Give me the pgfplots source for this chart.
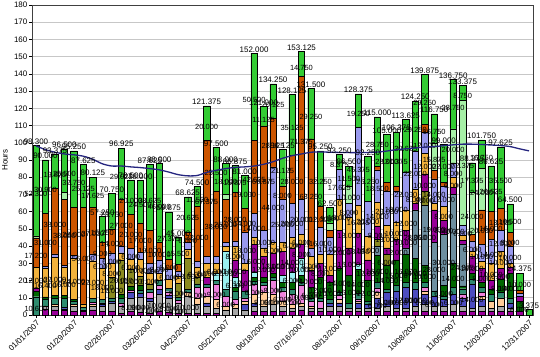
\documentclass[border=0pt]{standalone}
\usepackage{fontspec}
\setmainfont{Liberation Sans}
\usepackage{pgfplots}
\usepackage{pgfplotstable}
\pgfplotsset{compat=1.18}

\definecolor{cpur}{HTML}{990099}
\definecolor{cgry}{HTML}{A8A8A8}
\definecolor{csla}{HTML}{4C4CC0}
\definecolor{cpea}{HTML}{FFCC99}
\definecolor{cpnk}{HTML}{EE82DD}
\definecolor{ctea}{HTML}{2E8B6E}
\definecolor{cdgr}{HTML}{006600}
\definecolor{cstl}{HTML}{6E8FA0}
\definecolor{ccyn}{HTML}{99F0F0}
\definecolor{colv}{HTML}{8B8B20}
\definecolor{cpuu}{HTML}{990099}
\definecolor{clor}{HTML}{F2B23C}
\definecolor{clav}{HTML}{9999EE}
\definecolor{corg}{HTML}{CC5500}
\definecolor{clgr}{HTML}{A6F0A6}
\definecolor{cgrn}{HTML}{33CC33}
\definecolor{cline}{HTML}{25257F}

\pgfplotstableread{
x pur gry sla pea pnk tea dgr stl cyn olv puu lor lav org lgr grn tot avg
0 0 0 0 0 0 10.6 3 0 0 0 2 12 0 17.2 1.2 52.3 98.3 98.2
1 3.5 1.5 0 0 0 4 1.5 0 0 0 0 16.4 1.2 31 0 30.9 90 96
2 3 2 0 1 0 4 1.5 0 0 0 0 22 2 38 0 19.875 93.375 94.5
3 2.5 1 1 0 0 5 2 0 0 0 0 16 1.5 38 4 25.5 96.5 93.5
4 2 3 0 1 0 2 1 0 0 0 0 24 1.5 28 0 32.75 95.25 93
5 2 1 0 0 0 1.5 0 0 0 0 0 2 0 56 0 25.125 87.625 92.2
6 3 2 0 1 1.5 2 0 0 0 0 0 22 4 27 0 17.625 80.125 90.4
7 2 3 1 0 1 2 0 0 0 0 0 18 6 9 0 15.25 57.25 87.8
8 2 5 1 0 0 2 0 0 0 12 0 8 6 14 0 20.75 70.75 86.5
9 1 4 0 0 2 3 2 0 0 20 0 4 4 27 0 29.925 96.925 86.5
10 2 8 3 0 1.5 0 2 0 0 10 0 6 6 20 0 20 78.5 86
11 1.5 9 2 0 0 2 3 0 0 5 0 10 4 17 0 24.5 78 85.6
12 1 7 2 0 3 2 0 0 0 3 0 6 6 19 0 38.625 87.625 85
13 2 10 3 0 2 3 0 0 0 0 0 4 8 10 0 46 88 84.3
14 1.5 8 2 0 2 2 0 0 0 0 0 5 6 6 0 27.375 59.875 83
15 1 6 0 0 1.5 2 0 0 0 8 0 4 3 4 0 15.5 45 81.5
16 1 10 0 2 0 2 0 0 0 18 0 5 4 6 0 20.625 68.625 80.8
17 1 5 0 4 6 2 0 0 0 4 0 6 3 32 0 11.5 74.5 81
18 1 4 2 4 5 2 0 0 0 0 4 8 4 67.375 0 20 121.375 82.8
19 1 3 0 5 9 2 0 0 4 0 0 6 4 38 0 25.5 97.5 84
20 0 3 0 2 6 4 0 0 22 0 0 3 2 25 3 18 88 85
21 0 4 0 2 3 5 2 0 6 0 10 8 3 28 0 15.875 86.875 85.7
22 0 3 3 2 2 4 0 0 0 0 12 4 18 14 0 19 81 86
23 2 3 1.875 5 6 2 2 0 3 0 16 4 14 42.625 0 50.5 152 86.5
24 2 3 0 8 4 2 3 0 0 0 12 5 10 60.875 0 11.125 121 87.5
25 2 4 0 6 8 2 2 0 0 0 12 6 44 28.125 0 20.125 134.25 89
26 2 3 0 3 6 2 3 0 4 0 14 5 25 8 0 21.125 96.125 91
27 2 2 0 2 6 3 4 0 6 0 14 6 20 28 0 35.125 128.125 92.5
28 3 2 0 2 10 2 4 0 10 0 8 6 20 71.375 0 14.75 153.125 93.5
29 2 2 0 1 3 2 6 0 0 0 10 8 5 63.25 0 29.25 131.5 94.5
30 2 2 0 0 4 2 12 0 0 0 8 5 16 12 0 32.25 95.25 94.7
31 2 3 2 0 0 2 10 0 0 0 4 12 10 4 4 9.5 62.5 94.5
32 2 3 2 2 2.25 2 14 0 0 0 22 18 17.625 0 0 8.375 93.25 94.4
33 2 2 0 0 0 3 16 0 0 0 16 18 8 0 10 11.5 86.5 94.3
34 2 2 3 1 1.375 3 14 0 3 0 18 16.375 45.375 0 0 19.25 128.375 94.3
35 2 2 2 0 0 2 12 0 0 0 12 14 20 0 0 26.25 92.25 94.4
36 2 2 6 3 2.75 3 16 5 0 4 8 14 18.5 2 0 28.75 115 94.6
37 2 3 8 0 0 2 14 0 0 6 4 13 20 5 0 28 105 95.2
38 2 2 10 0 0 3 15 0 0 0 12 10 18 3 0 31.375 106.375 96
39 2 2 12 0 0 3 16 4 0 0 10 12 22 0 0 30.625 113.625 96.5
40 2 3 10 0 0 4 14 28 0 0 4 8 22 0 0 29.25 124.25 97
41 2 4 6 2 2 3 10 35 0 8 10 12 12 4.625 0 29.25 139.875 97.5
42 2 3 6 0 0 3 0 28 0 0 19 4 14 5.125 15.875 16.75 116.75 97.8
43 2 3 4 0 0 2 6 30 0 0 8 8 12 2 0 22 99 98.3
44 2 4 6 0 0 4 14 40 0 0 4 6 8 0 20 28.75 136.75 98.8
45 2 3 5 0 2.25 3 1.625 24.375 0 0 2 3 6 0 72.375 8.75 133.375 99.2
46 2 2 14 0 0 3 3 0 0 0 10 3 6 4 24 17.375 88.375 99.2
47 2 3 4 2 2 3 3 0 0 0 8 4 10 20 24 16.75 101.75 99
48 2 2 0 4 0 4 3 0 0 0 5 10 14 16 0 26.625 86.625 98.7
49 2 3 0 5 0 3 8 0 0 0 6 10 12 13.125 0 35.5 97.625 98.4
50 2 2 3 0 0 3 14 0 0 0 4 2 10 8 0 16.5 64.5 97.8
51 2 0 0 0 0 0 6 0 0 0 3 0 1.375 2 0 10 24.375 96.5
52 0 0 0 0 0 0 0 0 0 0 0 0 0 0 0 3.375 3.375 95.3
}\data

\newcommand{\seglab}{\pgfmathfloattofixed{\pgfplotspointmeta}\ifdim\pgfmathresult pt>5.9pt\relax\pgfmathprintnumber[fixed,fixed zerofill,precision=3]{\pgfplotspointmeta}\fi}
\newcommand{\totlab}{\pgfmathprintnumber[fixed,fixed zerofill,precision=3]{\pgfplotspointmeta}}

\pgfplotsset{
  seg/.style={fill=#1, draw=black, line width=0.45bp,
    nodes near coords=\seglab,
    every node near coord/.append style={anchor=north, font=\fontsize{7.5}{8}\selectfont, inner sep=0.6pt, text=black}},
}

\begin{document}
\begin{tikzpicture}
\begin{axis}[
  at={(0,0)}, anchor=south west,
  scale only axis, width=501bp, height=310bp,
  ybar stacked, bar width=0.68,
  xmin=-0.42, xmax=52.42, ymin=0, ymax=180,
  point meta=explicit,
  font=\fontsize{8}{9.6}\selectfont,
  /pgf/number format/assume math mode=true,
  ytick={0,10,...,180},
  ymajorgrids, grid style={draw=black!22, line width=0.7bp},
  xtick={0,4,...,52},
  minor xtick={0,1,...,52},
  xticklabels={01/01/2007,01/29/2007,02/26/2007,03/26/2007,04/23/2007,05/21/2007,06/18/2007,07/16/2007,08/13/2007,09/10/2007,10/08/2007,11/05/2007,12/03/2007,12/31/2007},
  xticklabel style={rotate=45, anchor=north east, inner sep=1pt, font=\fontsize{8}{9.6}\selectfont},
  yticklabel style={font=\fontsize{8}{9.6}\selectfont, inner sep=1.5pt},
  tick pos=left, tick align=outside,
  major tick length=3bp, minor tick length=3bp,
  tick style={black, line width=0.5bp},
  axis line style={draw=black!75, line width=0.8bp},
  ylabel={Hours},
  ylabel style={at={(axis description cs:-0.054,0.5)}, anchor=center, font=\fontsize{8}{9.6}\selectfont},
  clip=false,
]
\addplot[seg=cpur] table[x=x,y=pur,meta=pur]{\data};
\addplot[seg=cgry] table[x=x,y=gry,meta=gry]{\data};
\addplot[seg=csla] table[x=x,y=sla,meta=sla]{\data};
\addplot[seg=cpea] table[x=x,y=pea,meta=pea]{\data};
\addplot[seg=cpnk] table[x=x,y=pnk,meta=pnk]{\data};
\addplot[seg=ctea] table[x=x,y=tea,meta=tea]{\data};
\addplot[seg=cdgr] table[x=x,y=dgr,meta=dgr]{\data};
\addplot[seg=cstl] table[x=x,y=stl,meta=stl]{\data};
\addplot[seg=ccyn] table[x=x,y=cyn,meta=cyn]{\data};
\addplot[seg=colv] table[x=x,y=olv,meta=olv]{\data};
\addplot[seg=cpuu] table[x=x,y=puu,meta=puu]{\data};
\addplot[seg=clor] table[x=x,y=lor,meta=lor]{\data};
\addplot[seg=clav] table[x=x,y=lav,meta=lav]{\data};
\addplot[seg=corg] table[x=x,y=org,meta=org]{\data};
\addplot[seg=clgr] table[x=x,y=lgr,meta=lgr]{\data};
\addplot[seg=cgrn] table[x=x,y=grn,meta=grn]{\data};
\end{axis}
\begin{axis}[
  at={(0,0)}, anchor=south west,
  scale only axis, width=501bp, height=310bp,
  xmin=-0.42, xmax=52.42, ymin=0, ymax=180,
  axis lines=none, clip=false,
  /pgf/number format/assume math mode=true,
]
\addplot[color=cline, line width=1.3bp, smooth, no markers] table[x=x,y=avg]{\data};
\addplot[draw=none, only marks, mark=none, point meta=explicit,
  nodes near coords=\totlab,
  every node near coord/.append style={anchor=south, font=\fontsize{8}{9}\selectfont, inner sep=0.8pt, text=black}]
  table[x=x, y=tot, meta=tot]{\data};
\end{axis}
\pgfresetboundingbox
\path[use as bounding box] (-32bp,-42bp) rectangle (508bp,315bp);
\end{tikzpicture}
\end{document}
